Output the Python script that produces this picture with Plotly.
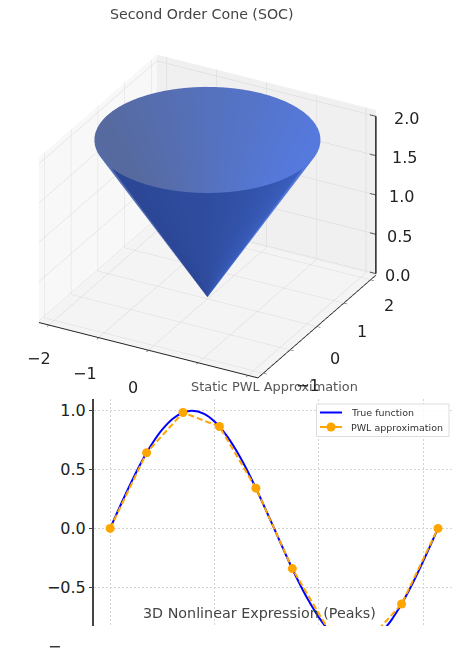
import math
import plotly.graph_objects as go

W, H = 457, 649

# Cone: heights and rim sampling (degrees) with shade per angle
cone_heights = [0.0, 0.5, 1.0, 1.5, 2.0]
outer_angles = [-120, -115, -110, -105, -100, -95, -90, -85, -80, -75, -70, -65, -60, -55, -50, -45, -40, -35, -30, -25, -20, -15, -10, -4]
outer_shade = [.10, .10, .10, .11, .11, .12, .13, .14, .15, .16, .17, .18, .19, .21, .23, .25, .27, .30, .32, .35, .38, .41, .44, .48]
inner_angles = [-4, 0, 5, 10, 15, 20, 25, 30, 35, 40, 45, 50, 55, 60, 65, 70, 75, 80, 85, 90, 95, 100, 105, 110, 115, 120,
                125, 130, 135, 140, 145, 150, 155, 160, 165, 170, 175, 180, 185, 190, 195, 200, 205, 210, 215, 220, 225, 230, 235, 240]
inner_shade = [.98, .98, .99, 1, 1, 1, 1, 1, 1, 1, .99, .99, .98, .97, .96, .95, .94, .93, .92, .90, .89, .88, .87, .85, .84, .83,
               .81, .80, .79, .77, .76, .75, .73, .72, .71, .70, .69, .68, .67, .67, .67, .67, .68, .69, .70, .72, .74, .76, .78, .80]
cone_colors = [[0.0, "#27408a"], [0.5, "#3c62c4"], [0.67, "#566a9f"], [1.0, "#5579dc"]]
x_tick_vals = [-2, -1, 0]
x_tick_labels = ["−2", "−1", "0"]
y_tick_vals = [-1, 0, 1, 2]
y_tick_labels_3d = ["−1", "0", "1", "2"]
z_ticks = [0.0, 0.5, 1.0, 1.5, 2.0]
z_tick_labels = ["0.0", "0.5", "1.0", "1.5", "2.0"]
box_max = 2.2

# Static PWL panel
pwl_x = [0.0, 0.698, 1.396, 2.094, 2.793, 3.491, 4.189, 4.887, 5.585, 6.283]
pwl_y = [0.0, 0.643, 0.985, 0.866, 0.342, -0.342, -0.866, -0.985, -0.643, 0.0]
true_x = [0.0, 0.2, 0.4, 0.6, 0.8, 1.0, 1.2, 1.4, 1.571, 1.8, 2.0, 2.2, 2.4, 2.6, 2.8, 3.0, 3.142,
          3.4, 3.6, 3.8, 4.0, 4.2, 4.4, 4.712, 5.0, 5.2, 5.4, 5.6, 5.8, 6.0, 6.283]
true_y = [0.0, 0.199, 0.389, 0.565, 0.717, 0.841, 0.932, 0.985, 1.0, 0.974, 0.909, 0.808, 0.675, 0.516, 0.335, 0.141, 0.0,
          -0.256, -0.443, -0.612, -0.757, -0.872, -0.952, -1.0, -0.959, -0.883, -0.773, -0.631, -0.465, -0.279, 0.0]
x_ticks = [0, 2, 4, 6]
y_ticks = [-0.5, 0.0, 0.5, 1.0]
y_tick_labels = ["−0.5", "0.0", "0.5", "1.0"]
legend_labels = ["True function", "PWL approximation"]
FONT = "DejaVu Sans"


def cone_trace(angles, shades):
    xs, ys, zs, cs = [], [], [], []
    for h in cone_heights:
        xs.append([h * math.cos(math.radians(a)) for a in angles])
        ys.append([h * math.sin(math.radians(a)) for a in angles])
        zs.append([h for _ in angles])
        cs.append(list(shades))
    return go.Surface(x=xs, y=ys, z=zs, surfacecolor=cs, colorscale=cone_colors, cmin=0, cmax=1,
                      showscale=False, hoverinfo="skip",
                      lighting=dict(ambient=1, diffuse=0, specular=0, roughness=1, fresnel=0))


fig = go.Figure()
fig.add_trace(cone_trace(outer_angles, outer_shade))
fig.add_trace(cone_trace(inner_angles, inner_shade))

# z axis at the right-hand corner with small ticks
zx, zy, zz = [box_max, box_max], [box_max, box_max], [z_ticks[0], z_ticks[-1]]
fig.add_trace(go.Scatter3d(x=zx, y=zy, z=zz, mode="lines", line=dict(color="#222222", width=3),
                           hoverinfo="skip", showlegend=False))
for t in z_ticks:
    fig.add_trace(go.Scatter3d(x=[box_max - 0.12, box_max], y=[box_max, box_max], z=[t, t], mode="lines",
                               line=dict(color="#222222", width=2), hoverinfo="skip", showlegend=False))

fig.add_trace(go.Scatter(x=true_x, y=true_y, mode="lines", name=legend_labels[0], showlegend=False,
                         line=dict(color="#0000ff", width=2, shape="spline", smoothing=0.8)))
fig.add_trace(go.Scatter(x=pwl_x, y=pwl_y, mode="lines+markers", name=legend_labels[1], showlegend=False,
                         line=dict(color="#ffa500", width=2, dash="6px,3px"),
                         marker=dict(color="#ffa500", size=9)))

axis3d = dict(gridcolor="#d6d6d6", gridwidth=1, showline=True, linecolor="#222222", linewidth=2,
              ticks="outside", ticklen=4, tickcolor="#222222", title=dict(text=""), showticklabels=False,
              showspikes=False, zeroline=False, showbackground=True)


def px(x):
    return x / W


def py(y):
    return 1 - y / H


def label(text, x, y, size, color, xanchor="center"):
    return dict(text=text, x=px(x), y=py(y), xref="paper", yref="paper", showarrow=False, xanchor=xanchor,
                yanchor="middle", font=dict(family=FONT, size=size, color=color))


tick_font = dict(family=FONT, size=16, color="#222222")
x_label_shift = [(-10, -33), (-14, -36), (-15, -37)]
y_label_shift = [(18, -36), (18, -32), (18, -28), (18, -26)]
scene_annotations = (
    [dict(x=t, y=-box_max, z=-0.02, text=s, showarrow=False, xshift=dx, yshift=dy, font=tick_font)
     for t, s, (dx, dy) in zip(x_tick_vals, x_tick_labels, x_label_shift)]
    + [dict(x=box_max, y=t, z=-0.02, text=s, showarrow=False, xshift=dx, yshift=dy, font=tick_font)
       for t, s, (dx, dy) in zip(y_tick_vals, y_tick_labels_3d, y_label_shift)]
    + [dict(x=box_max, y=box_max, z=t, text=s, showarrow=False, xanchor="left", xshift=7 + 4.5 * t, yshift=-2,
            font=tick_font)
       for t, s in zip(z_ticks, z_tick_labels)]
)

shapes = [
    dict(type="rect", xref="paper", yref="paper", x0=px(316.5), x1=px(449), y0=py(404), y1=py(436.5),
         line=dict(color="#dddddd", width=1), fillcolor="rgba(255,255,255,0.85)", layer="above"),
    dict(type="line", xref="paper", yref="paper", x0=px(320), x1=px(342), y0=py(412.5), y1=py(412.5),
         line=dict(color="#0000ff", width=2), layer="above"),
    dict(type="line", xref="paper", yref="paper", x0=px(320), x1=px(342), y0=py(427), y1=py(427),
         line=dict(color="#ffa500", width=2), layer="above"),
    dict(type="circle", xref="paper", yref="paper", x0=px(326.5), x1=px(335.5), y0=py(422.5), y1=py(431.5),
         line=dict(color="#ffa500", width=0), fillcolor="#ffa500", layer="above"),
]

fig.update_layout(
    width=W, height=H, margin=dict(l=0, r=0, t=0, b=0), paper_bgcolor="white", plot_bgcolor="white",
    showlegend=False, shapes=shapes,
    scene=dict(
        domain=dict(x=[0, 1], y=[py(398), 1]),
        camera=dict(eye=dict(x=0.802, y=-1.265, z=0.892), center=dict(x=0.061, y=0.110, z=0.062),
                    projection=dict(type="orthographic")),
        aspectmode="manual", aspectratio=dict(x=1.25, y=1.25, z=0.94),
        xaxis=dict(axis3d, range=[-box_max, box_max], tickvals=[-2, -1, 0, 1, 2], backgroundcolor="#f8f8f8"),
        yaxis=dict(axis3d, range=[-box_max, box_max], tickvals=[-2, -1, 0, 1, 2], backgroundcolor="#f0f0f0"),
        zaxis=dict(axis3d, range=[-0.02, 2.08], tickvals=z_ticks, ticks="", showline=False,
                   backgroundcolor="#f4f4f4"),
        annotations=scene_annotations,
    ),
    xaxis=dict(domain=[px(94), px(454)], range=[-0.31, 6.59], tickvals=x_ticks, showticklabels=False, ticks="",
               showgrid=True, gridcolor="#d4d4d4", griddash="2px,2px", gridwidth=1, zeroline=False, showline=False),
    yaxis=dict(domain=[py(626), py(399)], range=[-0.83, 1.10], tickvals=y_ticks, ticktext=y_tick_labels,
               showgrid=True, gridcolor="#d4d4d4", griddash="2px,2px", gridwidth=1, zeroline=False,
               showline=True, linecolor="#444444", linewidth=2, ticks="outside", ticklen=3, tickcolor="#444444",
               tickfont=dict(family=FONT, size=16, color="#222222")),
    annotations=[
        label("Second Order Cone (SOC)", 202, 14, 14.2, "#444444"),
        label("Static PWL Approximation", 274, 386, 12.9, "#555555"),
        label("3D Nonlinear Expression (Peaks)", 259, 613, 14.3, "#444444"),
        label("−", 54, 646, 16, "#222222"),
        label(legend_labels[0], 349, 412.5, 9.5, "#333333", "left"),
        label(legend_labels[1], 349, 427, 9.5, "#333333", "left"),
    ],
)
fig.write_html("out.html", config={"displayModeBar": False}, post_script="document.body.style.margin='0';")
